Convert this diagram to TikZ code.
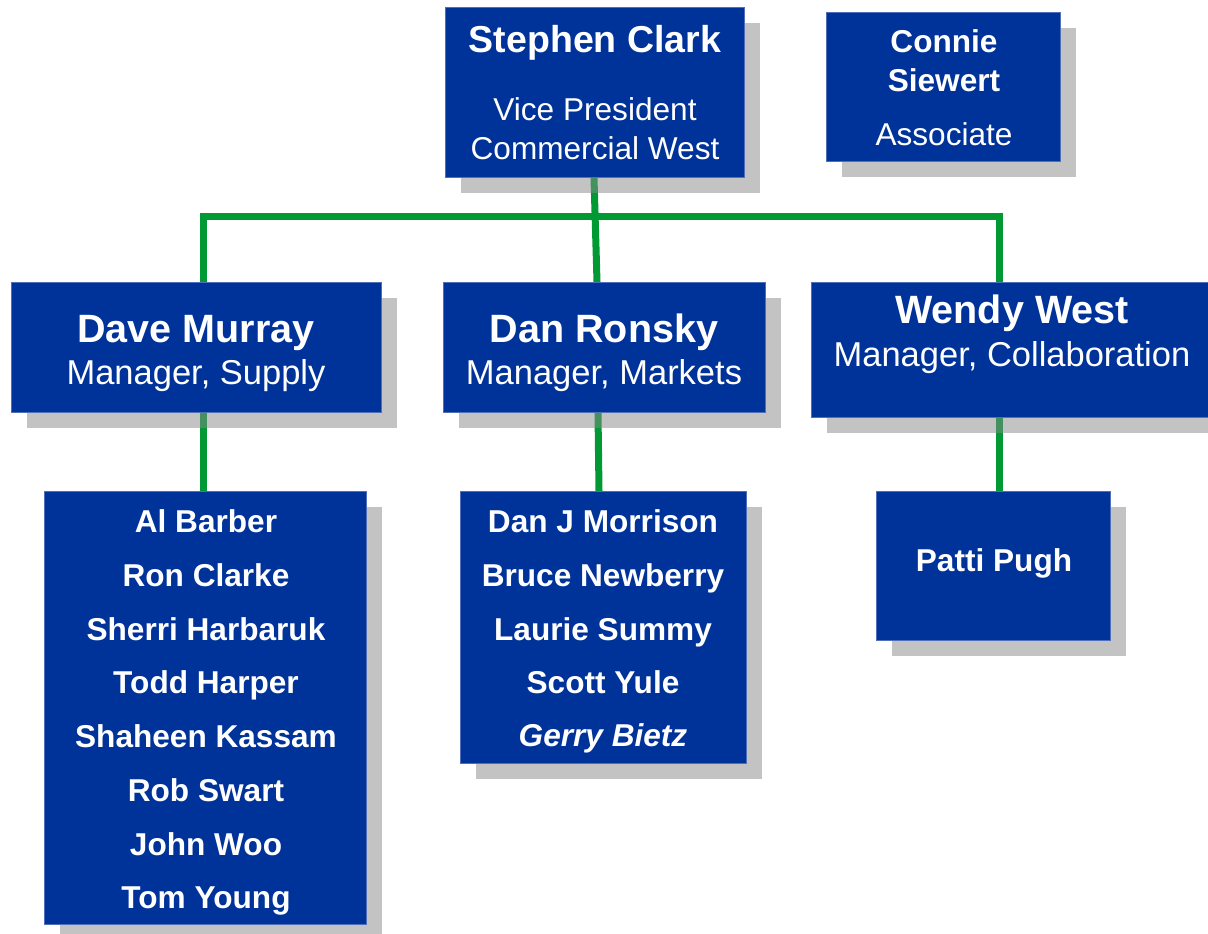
\documentclass[tikz,border=0pt]{standalone}
\usepackage{fontspec}
\setmainfont{Liberation Sans}
\usetikzlibrary{shadows}
\definecolor{boxblue}{RGB}{0,51,153}
\definecolor{boxedge}{RGB}{80,110,185}
\definecolor{shadowgray}{RGB}{137,137,137}
\definecolor{linegreen}{RGB}{0,153,51}
\pgfdeclarelayer{background}
\pgfsetlayers{background,main}
\begin{document}
\begin{tikzpicture}[x=1pt,y=-1pt,
  box/.style={rectangle, fill=boxblue, draw=boxedge, line width=0.7pt, inner sep=0pt, anchor=north west,
    drop shadow={shadow xshift=16pt, shadow yshift=-16pt, fill=shadowgray, opacity=0.5}},
  conn/.style={draw=linegreen, line width=7pt},
  txt/.style={text=white, anchor=base, inner sep=0pt},
  topname/.style={txt, font=\fontsize{37.5}{40}\selectfont\bfseries},
  bigname/.style={txt, font=\fontsize{39.5}{42}\selectfont\bfseries},
  title/.style={txt, font=\fontsize{34.5}{37}\selectfont},
  smalltitle/.style={txt, font=\fontsize{31.6}{34}\selectfont},
  member/.style={txt, font=\fontsize{31.6}{34}\selectfont\bfseries},
  membernew/.style={txt, font=\fontsize{31.6}{34}\selectfont\bfseries\itshape}
]
\useasboundingbox (0,0) rectangle (1208,934);

% boxes
\node[box, minimum width=299pt, minimum height=170pt] (sc) at (445,7) {};
\node[box, minimum width=234pt, minimum height=149pt] (cs) at (826,12) {};
\node[box, minimum width=370pt, minimum height=130pt] (dm) at (11,282) {};
\node[box, minimum width=322pt, minimum height=130pt] (dr) at (443,282) {};
\node[box, minimum width=400pt, minimum height=135pt] (ww) at (811,282) {};
\node[box, minimum width=322pt, minimum height=433pt] (dmt) at (44,491) {};
\node[box, minimum width=286pt, minimum height=272pt] (drt) at (460,491) {};
\node[box, minimum width=234pt, minimum height=149pt] (pp) at (876,491) {};

% texts
\node[topname] (scn) at (595,53) {Stephen Clark};
\node[smalltitle] (sct1) at (595,121) {Vice President};
\node[smalltitle] (sct2) at (595,159) {Commercial West};

\node[member] (csn1) at (944,53) {Connie};
\node[member] (csn2) at (944,92) {Siewert};
\node[smalltitle] (cst) at (944,145) {Associate};

\node[bigname] (dmn) at (196,342) {Dave Murray};
\node[title] (dmti) at (196,384) {Manager, Supply};
\node[bigname] (drn) at (604,342) {Dan Ronsky};
\node[title] (drti) at (604,384) {Manager, Markets};
\node[bigname] (wwn) at (1012,323) {Wendy West};
\node[title] (wwti) at (1012,366) {Manager, Collaboration};

\node[member] (m1) at (206,532) {Al Barber};
\node[member] (m2) at (206,586) {Ron Clarke};
\node[member] (m3) at (206,640) {Sherri Harbaruk};
\node[member] (m4) at (206,693) {Todd Harper};
\node[member] (m5) at (206,747) {Shaheen Kassam};
\node[member] (m6) at (206,801) {Rob Swart};
\node[member] (m7) at (206,855) {John Woo};
\node[member] (m8) at (206,908) {Tom Young};

\node[member] (k1) at (603,532) {Dan J Morrison};
\node[member] (k2) at (603,586) {Bruce Newberry};
\node[member] (k3) at (603,640) {Laurie Summy};
\node[member] (k4) at (603,693) {Scott Yule};
\node[membernew] (k5) at (603,746) {Gerry Bietz};

\node[member] (ppn) at (994,571) {Patti Pugh};

% connectors
\coordinate (j0) at (594,216);
\coordinate (busL) at (203,216);
\coordinate (busR) at (999,216);
\begin{pgfonlayer}{background}
\fill[white] (0,0) rectangle (1208,934);
\draw[conn] (sc.south -| j0) -- ([xshift=3pt]j0 |- dr.north);
\draw[conn] ([xshift=-3.5pt]busL) -- ([xshift=3.5pt]busR);
\draw[conn] ([yshift=3.5pt]busL) -- (busL |- dm.north);
\draw[conn] ([yshift=3.5pt]busR) -- (busR |- ww.north);
\draw[conn] (busL |- dm.south) -- (busL |- dmt.north);
\draw[conn] ([xshift=4pt]j0 |- dr.south) -- ([xshift=5pt]j0 |- drt.north);
\draw[conn] (busR |- ww.south) -- (busR |- pp.north);
\end{pgfonlayer}
\end{tikzpicture}
\end{document}
